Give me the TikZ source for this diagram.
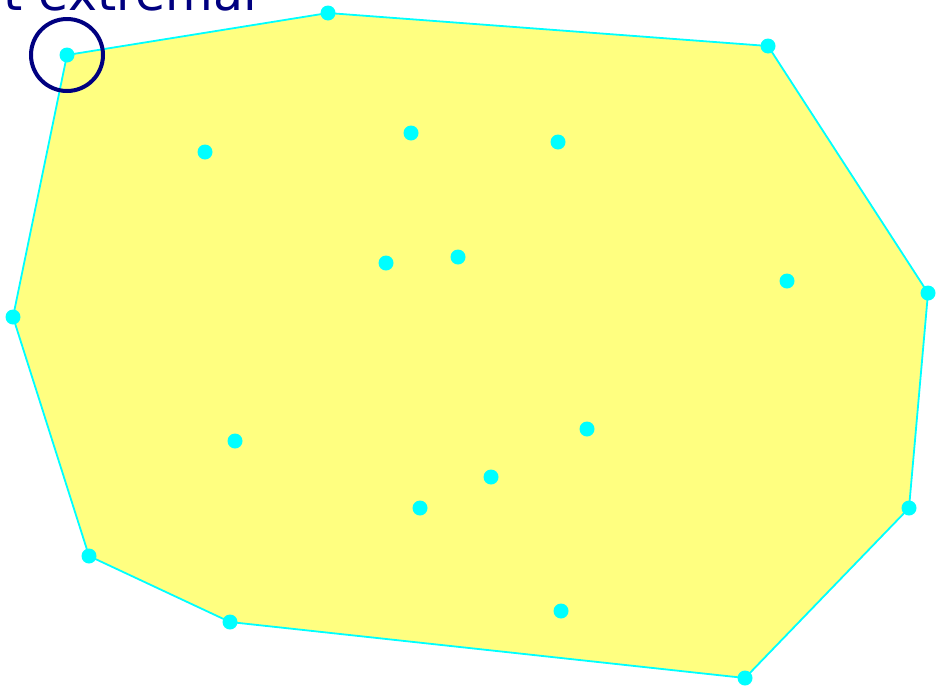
\documentclass[tikz,border=0pt]{standalone}
\usepackage{fontspec}
\newfontfamily\labelfont{DejaVu Sans}
\usepackage{xcolor}
\definecolor{hullyellow}{HTML}{FFFF80}
\definecolor{ptcyan}{HTML}{00FFFF}
\definecolor{marknavy}{HTML}{000080}
\usetikzlibrary{positioning,backgrounds}
\tikzset{
  pt/.style      ={circle, fill=ptcyan, inner sep=0pt, minimum size=15pt},
  hulledge/.style={draw=ptcyan, line width=1.8pt, fill=hullyellow, line join=round},
  ring/.style    ={circle, draw=marknavy, line width=4pt, inner sep=0pt, minimum size=72pt},
  captext/.style ={font=\labelfont\fontsize{49}{54}\selectfont, text=marknavy,
                   inner sep=0pt, anchor=base east},
}

\begin{document}
\begin{tikzpicture}[x=1pt, y=-1pt]
  \useasboundingbox (0,0) rectangle (936,686);
  \clip (0,0) rectangle (936,686);
  % hull vertices
  \node[pt] (p1) at (67,55)   {};
  \node[pt] (p2) at (328,13)  {};
  \node[pt] (p3) at (768,46)  {};
  \node[pt] (p4) at (928,293) {};
  \node[pt] (p5) at (909,508) {};
  \node[pt] (p6) at (745,678) {};
  \node[pt] (p7) at (230,622) {};
  \node[pt] (p8) at (89,556)  {};
  \node[pt] (p9) at (13,317)  {};
  \begin{scope}[on background layer]
    \path[hulledge] (p1.center) -- (p2.center) -- (p3.center) -- (p4.center) -- (p5.center)
      -- (p6.center) -- (p7.center) -- (p8.center) -- (p9.center) -- cycle;
  \end{scope}
  % interior points
  \node[pt] (q1)  at (205,152) {};
  \node[pt] (q2)  at (411,133) {};
  \node[pt] (q3)  at (558,142) {};
  \node[pt] (q4)  at (386,263) {};
  \node[pt] (q5)  at (458,257) {};
  \node[pt] (q6)  at (787,281) {};
  \node[pt] (q7)  at (235,441) {};
  \node[pt] (q8)  at (587,429) {};
  \node[pt] (q9)  at (491,477) {};
  \node[pt] (q10) at (420,508) {};
  \node[pt] (q11) at (561,611) {};
  % marked vertex
  \node[ring] (mark) at (p1) {};
  \node[captext] (txt) at (257,10) {t extremal};
\end{tikzpicture}
\end{document}
